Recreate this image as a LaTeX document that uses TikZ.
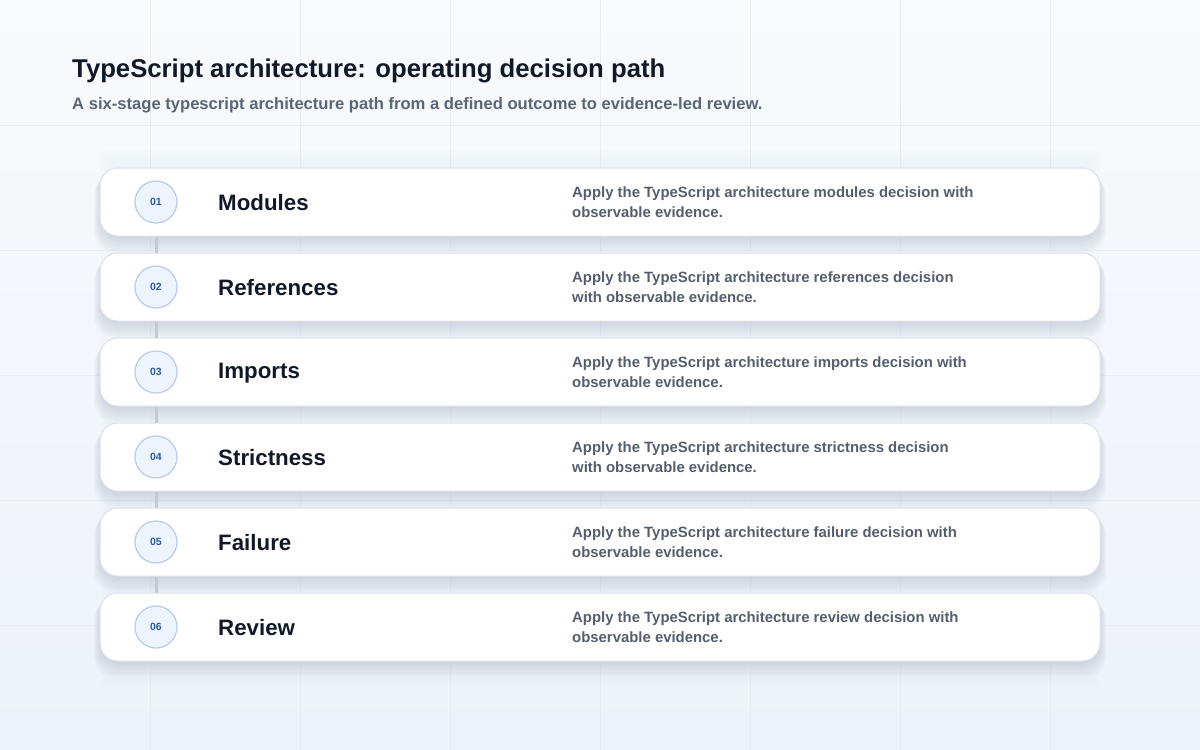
\documentclass[tikz,border=0pt]{standalone}
\usepackage{fontspec}
\setmainfont{Liberation Sans}
\definecolor{bgA}{HTML}{F8FAFC}
\definecolor{bgB}{HTML}{EDF1F9}
\definecolor{gridc}{HTML}{E3E8F0}
\definecolor{cardborder}{HTML}{DDE2EA}
\definecolor{titlec}{HTML}{111827}
\definecolor{subc}{HTML}{5A6577}
\definecolor{descc}{HTML}{555E6E}
\definecolor{numc}{HTML}{2D5BA6}
\definecolor{circfill}{HTML}{EEF4FD}
\definecolor{circdraw}{HTML}{B7CBEA}
\definecolor{connc}{HTML}{C5C9D0}
\definecolor{shadowc}{HTML}{9AA4B8}
\begin{document}
\begin{tikzpicture}[x=1pt,y=-1pt,
  card/.style={draw=cardborder, line width=1pt, fill=white, rounded corners=18pt,
    minimum width=1000pt, minimum height=68pt, inner sep=0pt},
  numcirc/.style={circle, draw=circdraw, line width=1.2pt, fill=circfill,
    minimum size=42pt, inner sep=0pt, text=numc, font=\fontsize{10.5}{12}\selectfont\bfseries},
  stagetitle/.style={anchor=west, text=titlec, font=\fontsize{22.3}{26}\selectfont\bfseries, inner sep=0pt},
  desc/.style={anchor=west, text=descc, align=left, inner sep=0pt,
    font=\fontsize{14.9}{19.5}\selectfont\bfseries},
  conn/.style={draw=connc, line width=3pt},
  bgline/.style={draw=gridc, line width=0.8pt, opacity=0.6}]
\useasboundingbox (0,0) rectangle (1200,750);
\shade[top color=bgA, bottom color=bgB] (0,0) rectangle (1200,750);
\foreach \x in {150,300,...,1050} \draw[bgline] (\x,0) -- (\x,750);
\foreach \y in {125,250,...,625} \draw[bgline] (0,\y) -- (1200,\y);
% faint soft panel behind cards
\foreach \k in {0,...,5}{
  \fill[shadowc, opacity=0.012] (100+3*\k,150+3*\k) rectangle (1100-3*\k,690-3*\k);
}
\node[anchor=base west, inner sep=0pt, text=titlec, font=\fontsize{25.7}{30}\selectfont\bfseries] (title) at (72,77) {TypeScript architecture: operating decision path};
\node[anchor=base west, inner sep=0pt, text=subc, font=\fontsize{16.6}{18}\selectfont\bfseries] (subtitle) at (72,109) {A six-stage typescript architecture path from a defined outcome to evidence-led review.};
\foreach \i/\num/\ttl/\la/\lb in {
  1/01/Modules/{Apply the TypeScript architecture modules decision with}/{observable evidence.},
  2/02/References/{Apply the TypeScript architecture references decision}/{with observable evidence.},
  3/03/Imports/{Apply the TypeScript architecture imports decision with}/{observable evidence.},
  4/04/Strictness/{Apply the TypeScript architecture strictness decision}/{with observable evidence.},
  5/05/Failure/{Apply the TypeScript architecture failure decision with}/{observable evidence.},
  6/06/Review/{Apply the TypeScript architecture review decision with}/{observable evidence.}}{
  \pgfmathsetmacro{\yc}{202+85*(\i-1)}
  \foreach \k in {1,...,6}{
    \fill[shadowc, opacity=0.055, rounded corners=18pt]
      (100-\k,\yc-34+\k*1.5) rectangle (1100+\k,\yc+34+\k*2.5);
  }
  \node[card] (c\i) at (600,\yc) {};
  \node[numcirc] (n\i) at (156,\yc) {\num};
  \node[stagetitle] (t\i) at (218,\yc+1) {\ttl};
  \node[desc] (d\i) at (572,\yc) {\la\\\lb};
}
\foreach \i in {1,...,5}{
  \pgfmathtruncatemacro{\j}{\i+1}
  \draw[conn] (c\i.south -| n\i) -- (c\j.north -| n\j);
}
\end{tikzpicture}
\end{document}
